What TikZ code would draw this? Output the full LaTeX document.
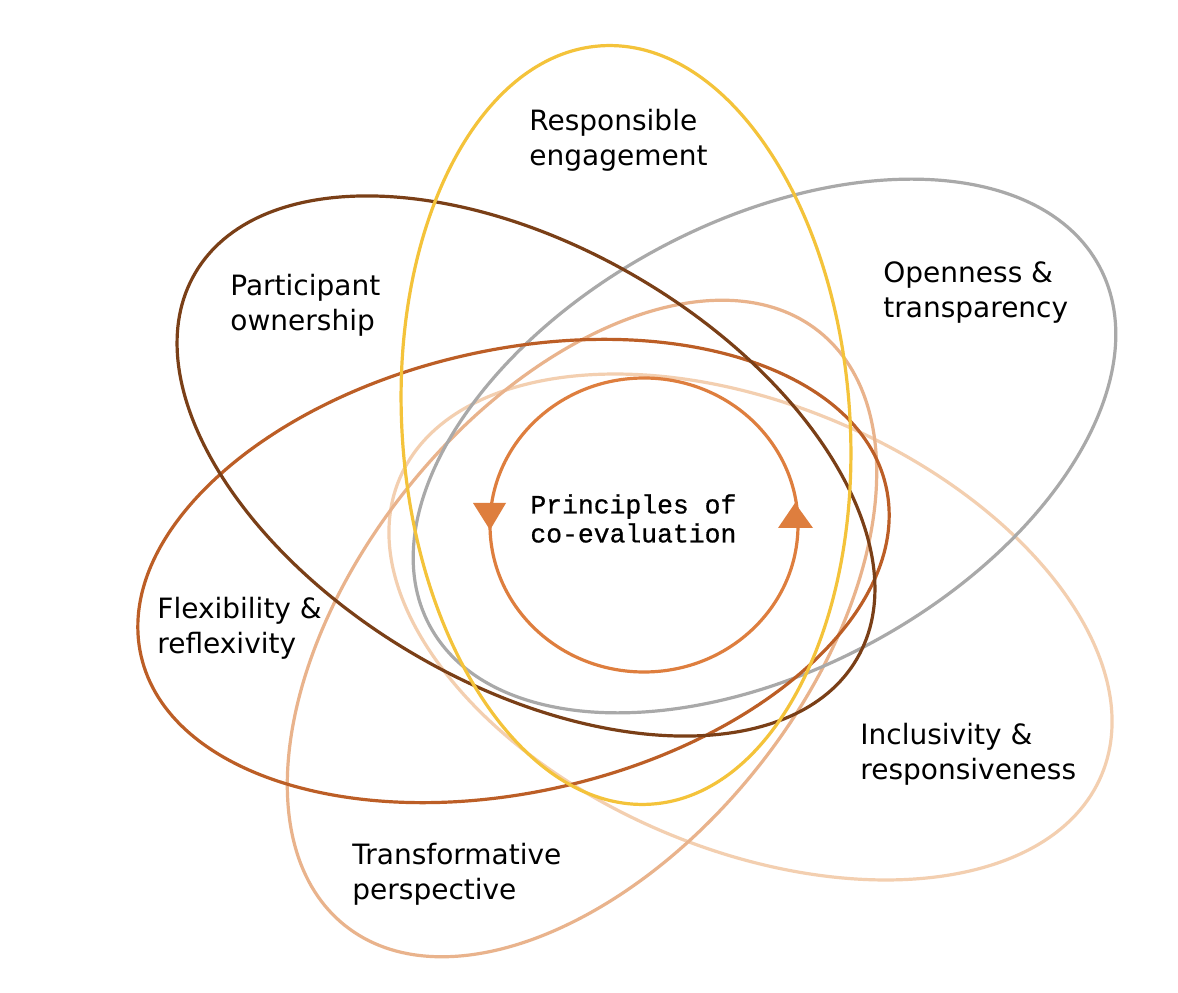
\documentclass[tikz,border=0pt]{standalone}
\usepackage{fontspec}
\setmainfont{DejaVu Sans}
\newfontfamily\coremono[FakeBold=0.8]{Liberation Mono}
\definecolor{cyellow}{HTML}{F4C33A}
\definecolor{cdark}{HTML}{7A3F17}
\definecolor{cgray}{HTML}{A9A9A9}
\definecolor{cmed}{HTML}{BC5E26}
\definecolor{ctan}{HTML}{E9B38C}
\definecolor{cpeach}{HTML}{F3CFB0}
\definecolor{corange}{HTML}{DE7E3E}
\begin{document}
\begin{tikzpicture}[x=0.5pt,y=0.5pt,
  ring/.style={line width=1.6pt},
  lbl/.style={anchor=north west, inner sep=0pt, align=left, text=black,
              font=\fontsize{14}{17.5}\selectfont},
  centre/.style={anchor=north west, inner sep=0pt, align=left, text=black,
              font=\coremono\fontsize{13.2}{14.5}\selectfont}]
\useasboundingbox[fill=white] (0,0) rectangle (1178,992);

% ellipses
\draw[ring, cpeach, rotate around={-22.9:(750.5,365)}] (750.5,365) ellipse [x radius=381, y radius=222.5];
\draw[ring, ctan, rotate around={51.4:(582,363.5)}] (582,363.5) ellipse [x radius=380, y radius=224];
\draw[ring, cgray, rotate around={28.2:(764.5,546)}] (764.5,546) ellipse [x radius=380, y radius=224];
\draw[ring, cmed, rotate around={12.85:(513.5,421)}] (513.5,421) ellipse [x radius=382, y radius=221];
\draw[ring, cdark, rotate around={-30.2:(526,526)}] (526,526) ellipse [x radius=383, y radius=219];
\draw[ring, cyellow, rotate around={3.8:(626,567)}] (626,567) ellipse [x radius=224, y radius=380];

% central cycle
\draw[ring, corange] (644,467) ellipse [x radius=154, y radius=147];
\fill[corange] (473,489) -- (506,489) -- (490,462) -- cycle;
\fill[corange] (778,464) -- (813,464) -- (795,489) -- cycle;

% labels
\node[lbl] (resp) at (529,886.5) {Responsible\strut\\engagement\strut};
\node[lbl] (part) at (230,721.5) {Participant\strut\\ownership\strut};
\node[lbl] (open) at (883,734.5) {Openness \&\strut\\transparency\strut};
\node[lbl] (flex) at (157,398.5) {Flexibility \&\strut\\reflexivity\strut};
\node[lbl] (trans) at (352,152.5) {Transformative\strut\\perspective\strut};
\node[lbl] (incl) at (860,272.5) {Inclusivity \&\strut\\responsiveness\strut};
\node[centre] (core) at (530,499.3) {Principles of\strut\\co-evaluation\strut};
\end{tikzpicture}
\end{document}
